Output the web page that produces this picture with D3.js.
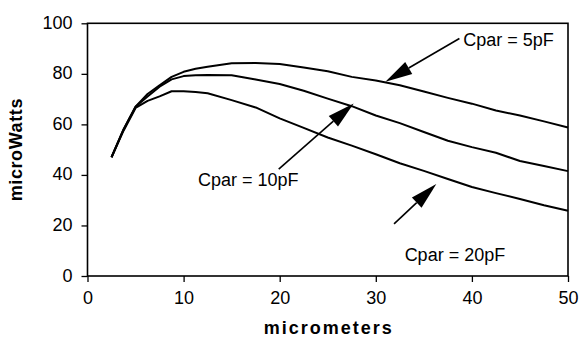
<!DOCTYPE html>
<html>
<head>
<meta charset="utf-8">
<script src="https://cdn.jsdelivr.net/npm/d3@7"></script>
<style>
  body { margin: 0; background: #fff; }
  svg { display: block; font-family: Arial, "Liberation Sans", sans-serif; }
</style>
</head>
<body>
<svg id="chart" width="580" height="337"></svg>
<script>
// gap in micrometers
const xs = [2.5, 3.75, 5, 6.25, 7.5, 8.75, 10, 11.25, 12.5, 15, 17.5, 20, 22.5,
  25, 27.5, 30, 32.5, 35, 37.5, 40, 42.5, 45, 47.5, 50];

// microWatts for each parasitic capacitance
const cpar5 = [47, 58, 67, 72, 75.5, 78.8, 80.8, 82, 82.8, 84.2, 84.3, 83.9, 82.5,
  81, 78.8, 77.4, 75.5, 73, 70.5, 68.2, 65.5, 63.5, 61.2, 58.8];
const cpar10 = [47, 58, 67, 71, 74.9, 77.8, 79.1, 79.4, 79.5, 79.4, 77.8, 76, 73.3,
  70.2, 67.2, 63.5, 60.5, 57, 53.5, 51, 48.8, 45.5, 43.5, 41.5];
const cpar20 = [47, 57.5, 66.5, 69.3, 71.1, 73.1, 73.1, 72.8, 72.3, 69.6, 66.7, 62.4, 58.6,
  54.8, 51.6, 48.2, 44.6, 41.6, 38.4, 35.2, 32.8, 30.5, 28, 25.8];

const xTicks = [0, 10, 20, 30, 40, 50];
const yTicks = [0, 20, 40, 60, 80, 100];

// callouts: label anchor, arrow tail, arrow tip (all in data units)
const callouts = [
  {text: 'Cpar = 5pF', lx: 39.1, ly: 91.0, tail: [38.7, 94.0], tip: [31.0, 76.9]},
  {text: 'Cpar = 10pF', lx: 11.5, ly: 35.6, tail: [19.9, 42.3], tip: [27.7, 68.3]},
  {text: 'Cpar = 20pF', lx: 33.0, ly: 5.9, tail: [31.9, 20.6], tip: [36.3, 36.4]},
];

const svg = d3.select('#chart');
const x = d3.scaleLinear().domain([0, 50]).range([87.5, 568]);
const y = d3.scaleLinear().domain([0, 100]).range([276, 23.3]);

// frame
svg.append('rect')
  .attr('x', x(0))
  .attr('y', y(100))
  .attr('width', x(50) - x(0))
  .attr('height', y(0) - y(100))
  .style('fill', 'none')
  .style('stroke', '#000')
  .style('stroke-width', 1.6);

// y axis
const yAxis = svg.append('g')
  .attr('transform', `translate(${x(0)},0)`)
  .call(d3.axisLeft(y).tickValues(yTicks).tickSize(6).tickPadding(9));
// x axis
const xAxis = svg.append('g')
  .attr('transform', `translate(0,${y(0)})`)
  .call(d3.axisBottom(x).tickValues(xTicks).tickSize(6).tickPadding(8));

[xAxis, yAxis].forEach(g => {
  g.select('.domain').remove();
  g.selectAll('line').style('stroke', '#000').style('stroke-width', 1.3);
  g.selectAll('text')
    .style('font-family', 'Arial, "Liberation Sans", sans-serif')
    .style('font-size', '18px')
    .style('fill', '#000');
});
yAxis.selectAll('text').attr('dy', '0.28em');
xAxis.selectAll('text').attr('dy', '0.75em');

// axis titles
svg.append('text')
  .attr('x', (x(0) + x(50)) / 2 + 1)
  .attr('y', 334)
  .attr('text-anchor', 'middle')
  .style('font-size', '18px')
  .style('font-weight', 'bold')
  .style('letter-spacing', '2px')
  .text('micrometers');

svg.append('text')
  .attr('transform', `translate(22,${(y(0) + y(100)) / 2}) rotate(-90)`)
  .attr('text-anchor', 'middle')
  .style('font-size', '18px')
  .style('font-weight', 'bold')
  .style('letter-spacing', '0.6px')
  .text('microWatts');

// curves
const line = d3.line()
  .x(d => x(d[0]))
  .y(d => y(d[1]));

[cpar5, cpar10, cpar20].forEach(vals => {
  svg.append('path')
    .datum(xs.map((v, i) => [v, vals[i]]))
    .attr('d', line)
    .style('fill', 'none')
    .style('stroke', '#000')
    .style('stroke-width', 2)
    .style('stroke-linejoin', 'round');
});

// callouts with filled arrowheads
const headLen = 27;
const headHalf = 7;
callouts.forEach(c => {
  const x1 = x(c.tail[0]), y1 = y(c.tail[1]);
  const x2 = x(c.tip[0]), y2 = y(c.tip[1]);
  const a = Math.atan2(y2 - y1, x2 - x1);
  const bx = x2 - headLen * Math.cos(a);
  const by = y2 - headLen * Math.sin(a);
  svg.append('line')
    .attr('x1', x1).attr('y1', y1)
    .attr('x2', bx).attr('y2', by)
    .style('stroke', '#000')
    .style('stroke-width', 1.6);
  const px = -Math.sin(a), py = Math.cos(a);
  svg.append('path')
    .attr('d', `M${x2},${y2}L${bx + px * headHalf},${by + py * headHalf}` +
      `L${bx - px * headHalf},${by - py * headHalf}Z`)
    .style('fill', '#000');
  svg.append('text')
    .attr('x', x(c.lx))
    .attr('y', y(c.ly))
    .style('font-size', '18px')
    .text(c.text);
});
</script>
</body>
</html>
